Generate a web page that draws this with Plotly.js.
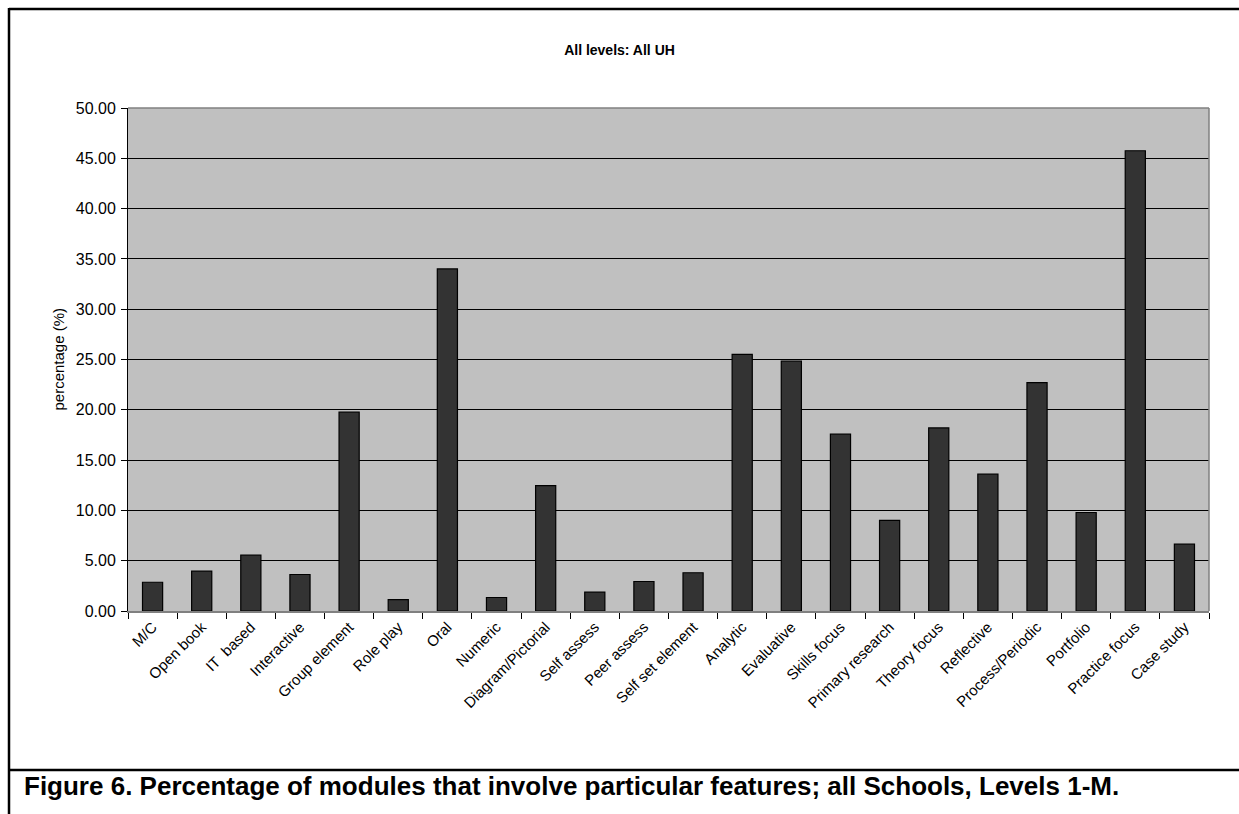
<!DOCTYPE html>
<html>
<head>
<meta charset="utf-8">
<script src="https://cdn.plot.ly/plotly-3.0.1.min.js"></script>
<style>
  html, body { margin: 0; padding: 0; background: #ffffff; }
  #chart { width: 1239px; height: 814px; }
</style>
</head>
<body>
<div id="chart"></div>
<script>
const categories = [
  "M/C", "Open book", "IT  based", "Interactive", "Group element", "Role play",
  "Oral", "Numeric", "Diagram/Pictorial", "Self assess", "Peer assess",
  "Self set element", "Analytic", "Evaluative", "Skills focus", "Primary research",
  "Theory focus", "Reflective", "Process/Periodic", "Portfolio", "Practice focus", "Case study"
];
const percentages = [
  2.86, 3.96, 5.55, 3.63, 19.76, 1.14,
  34.0, 1.34, 12.47, 1.87, 2.93,
  3.80, 25.5, 24.83, 17.58, 9.0,
  18.2, 13.6, 22.7, 9.79, 45.75, 6.64
];
const yTickValues = [0, 5, 10, 15, 20, 25, 30, 35, 40, 45, 50];
const yTickLabels = ["0.00", "5.00", "10.00", "15.00", "20.00", "25.00", "30.00", "35.00", "40.00", "45.00", "50.00"];
const chartTitle = "All levels: All UH";
const yAxisTitle = "percentage (%)";
const captionText = "Figure 6. Percentage of modules that involve particular features; all Schools, Levels 1-M.";

const FONT = "Liberation Sans, Arial, Helvetica, sans-serif";

// plot area in pixels: x 128..1209, y 108..611
const L = 128, R = 1209, T = 108, B = 611;
const W = 1239, H = 814;
const px = x => (x - L) / (R - L);
const py = y => (B - y) / (B - T);

const trace = {
  type: "bar",
  x: categories,
  y: percentages,
  marker: { color: "#333333", line: { color: "#000000", width: 1.2 } },
  hoverinfo: "x+y"
};

const layout = {
  width: W, height: H,
  margin: { l: L, r: W - R, t: T, b: H - B, pad: 0 },
  paper_bgcolor: "#ffffff",
  plot_bgcolor: "#c0c0c0",
  showlegend: false,
  bargap: 0.59,
  font: { family: FONT, color: "#000000", size: 15 },
  title: {
    text: "<b>" + chartTitle + "</b>",
    x: 0.5, xref: "container", xanchor: "center",
    y: 1 - 50 / H, yref: "container", yanchor: "middle",
    font: { family: FONT, size: 14, color: "#000000" }
  },
  xaxis: {
    type: "category",
    tickangle: -45,
    tickson: "boundaries",
    ticks: "outside",
    ticklen: 6,
    tickcolor: "#000000",
    tickwidth: 1,
    showline: true,
    linecolor: "#808080",
    linewidth: 1.5,
    mirror: false,
    showgrid: false,
    tickfont: { family: FONT, size: 15, color: "#000000" },
    fixedrange: true
  },
  yaxis: {
    range: [0, 50],
    tickvals: yTickValues,
    ticktext: yTickLabels,
    ticks: "outside",
    ticklen: 6,
    tickcolor: "#000000",
    showline: true,
    linecolor: "#000000",
    linewidth: 1,
    showgrid: true,
    gridcolor: "#000000",
    gridwidth: 1,
    zeroline: false,
    tickfont: { family: FONT, size: 16, color: "#000000" },
    ticklabelstandoff: 2,
    fixedrange: true
  },
  annotations: [
    {
      text: yAxisTitle,
      xref: "paper", yref: "paper",
      x: px(58), y: 0.5,
      xanchor: "center", yanchor: "middle",
      textangle: -90,
      showarrow: false,
      font: { family: FONT, size: 15, color: "#000000" }
    },
    {
      text: "<b>" + captionText + "</b>",
      xref: "paper", yref: "paper",
      x: px(22), y: py(786),
      xanchor: "left", yanchor: "middle",
      showarrow: false,
      font: { family: FONT, size: 26, color: "#000000" }
    }
  ],
  shapes: [
    // plot-area top & right border (gray)
    { type: "line", xref: "paper", yref: "paper", x0: 0, x1: 1, y0: 1, y1: 1, line: { color: "#808080", width: 1.5 } },
    { type: "line", xref: "paper", yref: "paper", x0: 1, x1: 1, y0: 0, y1: 1, line: { color: "#808080", width: 1.5 } },
    // outer frame: top, left, caption separator
    { type: "line", xref: "paper", yref: "paper", x0: px(9), x1: px(W + 5), y0: py(9), y1: py(9), line: { color: "#000000", width: 2.5 } },
    { type: "line", xref: "paper", yref: "paper", x0: px(9), x1: px(9), y0: py(8), y1: py(H + 5), line: { color: "#000000", width: 2.5 } },
    { type: "line", xref: "paper", yref: "paper", x0: px(9), x1: px(W + 5), y0: py(770), y1: py(770), line: { color: "#000000", width: 2.5 } }
  ]
};

Plotly.newPlot("chart", [trace], layout, { displayModeBar: false, staticPlot: true });
</script>
</body>
</html>
